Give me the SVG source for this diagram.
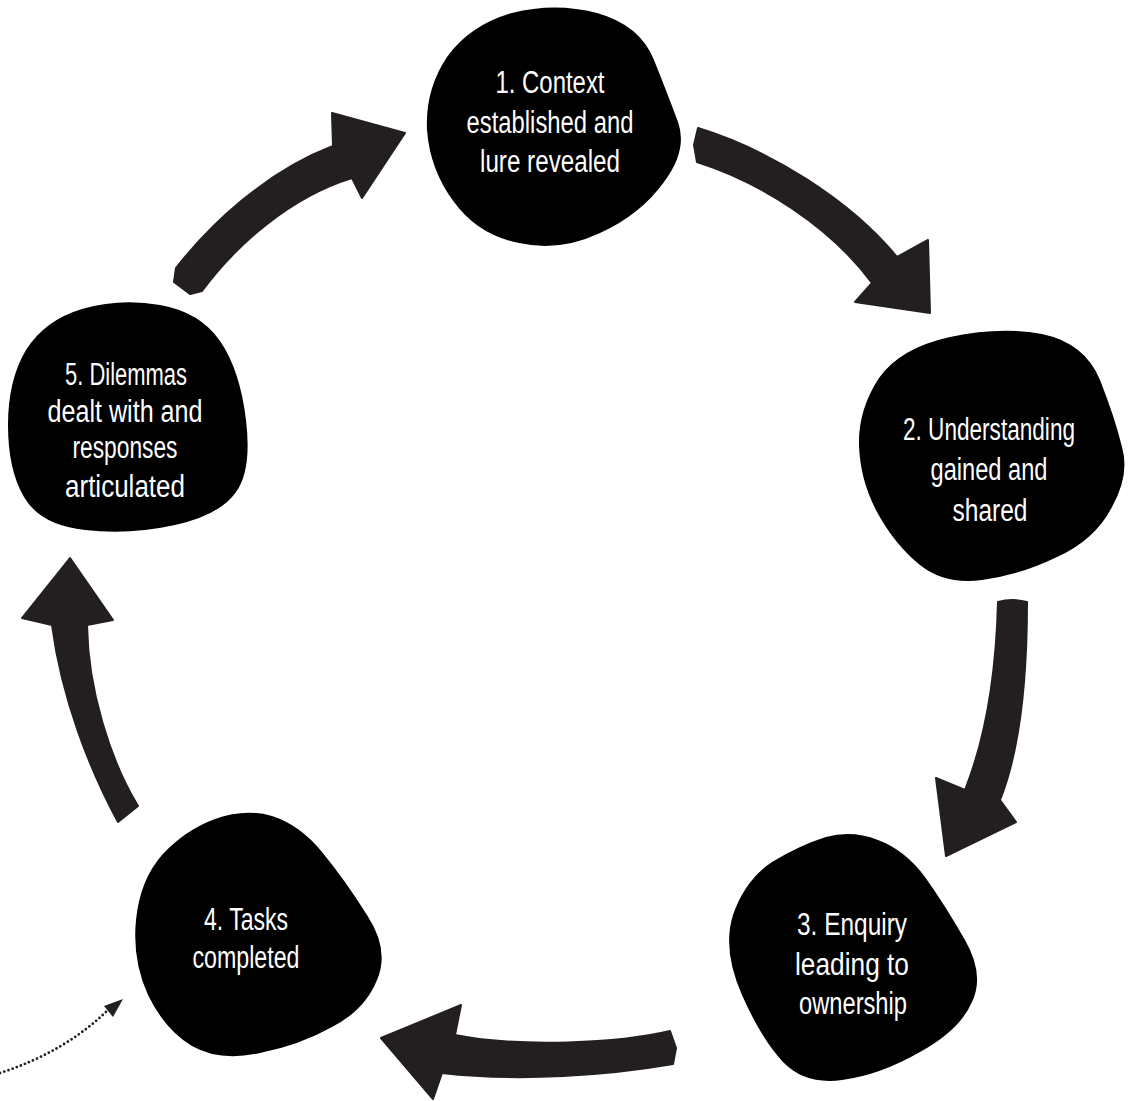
<svg xmlns="http://www.w3.org/2000/svg" width="1129" height="1101" viewBox="0 0 1129 1101">
<style>
.blob{fill:#000}
.arrow{fill:#231f20;stroke:#231f20;stroke-width:2;stroke-linejoin:round}
.lbl{font-family:"Liberation Sans",Arial,sans-serif;font-size:31px;fill:#fff;text-anchor:middle}
.dots{fill:none;stroke:#231f20;stroke-width:2.8;stroke-linecap:round;stroke-dasharray:0 4.4}
</style>
<rect width="1129" height="1101" fill="#fff"/>
<g id="connectors">
  <path id="a5to1" class="arrow" d="M176,268 C210,225 265,172 333,146 L332,113 L405,133 L362,198 L352,178 C290,197 236,245 202,291 L190,294 L174,282 Z"/>
  <path id="a1to2" class="arrow" d="M698,128 C770,150 850,200 897,257 L928,240 L930,313 L855,302 L872,283 C830,226 760,182 697,162 L694,145 Z"/>
  <path id="a2to3" class="arrow" d="M998,602 Q1012,598 1027,602 C1027,680 1020,750 1000,800 L1016,822 L946,856 L936,778 L965,790 C985,740 996,680 998,602 Z"/>
  <path id="a3to4" class="arrow" d="M670,1031 C620,1043 520,1048 455,1035 L461,1005 L381,1038 L433,1099 L442,1073 C520,1082 610,1075 673,1064 L676,1048 Z"/>
  <path id="a4to5" class="arrow" d="M70,558 L113,620 L87,625 C88,690 110,760 138,806 L118,822 C90,770 62,700 52,625 L22,618 Z"/>
  <path id="dotted" class="dots" d="M0,1073 Q65,1052 108,1010"/>
  <polygon fill="#231f20" points="123,999 104,1006 113,1017"/>
</g>
<g id="node1">
  <path class="blob" d="M512,13 Q555,2 597,13 Q640,25 654,60 Q668,95 678,122 Q688,150 664,182 Q640,215 600,233 Q560,252 519,243 Q478,235 454,202 Q430,170 427,130 Q425,90 447,57 Q470,25 512,13 Z"/>
  <text class="lbl" x="550" y="93" textLength="109" lengthAdjust="spacingAndGlyphs">1. Context</text>
  <text class="lbl" x="550" y="133" textLength="167" lengthAdjust="spacingAndGlyphs">established and</text>
  <text class="lbl" x="550" y="172" textLength="140" lengthAdjust="spacingAndGlyphs">lure revealed</text>
</g>
<g id="node2">
  <path class="blob" d="M950,337 Q1000,326 1042,334 Q1085,343 1100,380 Q1115,418 1122,447 Q1130,475 1112,507 Q1095,540 1057,557 Q1020,575 982,580 Q945,585 920,565 Q895,545 877,512 Q860,480 859,445 Q858,410 879,378 Q900,348 950,337 Z"/>
  <text class="lbl" x="989" y="440" textLength="172" lengthAdjust="spacingAndGlyphs">2. Understanding</text>
  <text class="lbl" x="989" y="480" textLength="117" lengthAdjust="spacingAndGlyphs">gained and</text>
  <text class="lbl" x="990" y="521" textLength="75" lengthAdjust="spacingAndGlyphs">shared</text>
</g>
<g id="node3">
  <path class="blob" d="M826,837 Q852,830 878,840 Q905,850 925,877 Q945,905 965,940 Q985,975 972,1002 Q960,1030 920,1052 Q880,1075 842,1080 Q805,1085 783,1062 Q762,1040 742,995 Q722,950 733,915 Q745,880 772,862 Q800,845 826,837 Z"/>
  <text class="lbl" x="852" y="935" textLength="110" lengthAdjust="spacingAndGlyphs">3. Enquiry</text>
  <text class="lbl" x="852" y="975" textLength="114" lengthAdjust="spacingAndGlyphs">leading to</text>
  <text class="lbl" x="853" y="1014" textLength="108" lengthAdjust="spacingAndGlyphs">ownership</text>
</g>
<g id="node4">
  <path class="blob" d="M215,819 Q245,808 272,816 Q300,825 322,852 Q345,880 367,915 Q390,950 377,980 Q365,1010 332,1027 Q300,1045 260,1053 Q220,1062 192,1046 Q165,1030 148,995 Q132,960 136,920 Q140,880 162,855 Q185,830 215,819 Z"/>
  <text class="lbl" x="246" y="930" textLength="84" lengthAdjust="spacingAndGlyphs">4. Tasks</text>
  <text class="lbl" x="246" y="968" textLength="107" lengthAdjust="spacingAndGlyphs">completed</text>
</g>
<g id="node5">
  <path class="blob" d="M82,309 Q120,298 160,305 Q200,312 220,341 Q240,370 246,420 Q252,470 236,492 Q220,515 175,525 Q130,535 85,530 Q40,525 24,497 Q8,470 8,425 Q8,380 26,350 Q45,320 82,309 Z"/>
  <text class="lbl" x="126" y="385" textLength="122" lengthAdjust="spacingAndGlyphs">5. Dilemmas</text>
  <text class="lbl" x="125" y="422" textLength="155" lengthAdjust="spacingAndGlyphs">dealt with and</text>
  <text class="lbl" x="125" y="458" textLength="105" lengthAdjust="spacingAndGlyphs">responses</text>
  <text class="lbl" x="125" y="497" textLength="120" lengthAdjust="spacingAndGlyphs">articulated</text>
</g>
</svg>
